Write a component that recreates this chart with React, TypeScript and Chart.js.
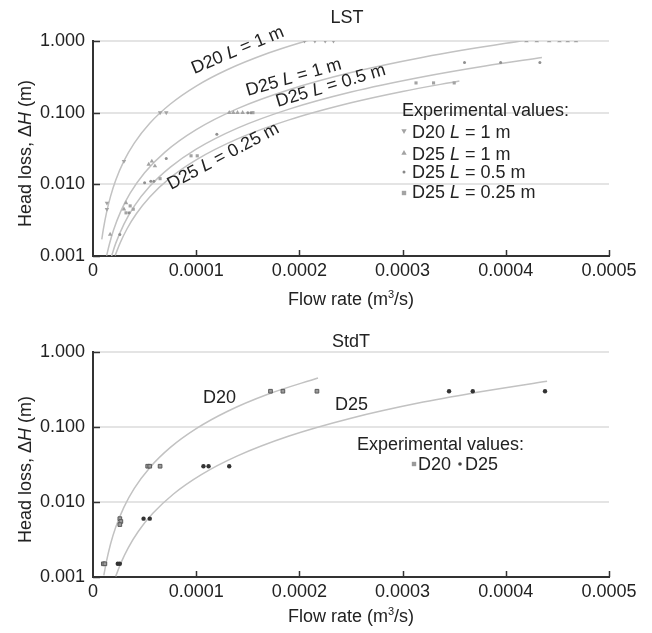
import React, { useEffect, useRef } from "react";
import { Chart, registerables } from "chart.js";

Chart.register(...registerables);

const FONT = '"Liberation Sans", Arial, Helvetica, sans-serif';

// ---------- axes ----------
const X_TICKS = [0, 0.0001, 0.0002, 0.0003, 0.0004, 0.0005];
const Y_TICKS = [0.001, 0.01, 0.1, 1];

// ---------- LST: fitted curves ----------
const LST_D20_1M_FIT_Q = [0.0000085, 0.00001, 0.000013, 0.000017, 0.000022, 0.00003, 0.00004, 0.000055, 0.000075, 0.0001, 0.00013, 0.00017, 0.0002, 0.00023];
const LST_D20_1M_FIT_H = [0.0017, 0.00235, 0.00397, 0.00679, 0.0114, 0.0212, 0.0376, 0.0711, 0.132, 0.235, 0.397, 0.679, 0.94, 1.24];
const LST_D25_1M_FIT_Q = [0.0000132, 0.000016, 0.00002, 0.000027, 0.000036, 0.00005, 0.00007, 0.0001, 0.00014, 0.00019, 0.00025, 0.00032, 0.0004, 0.00047];
const LST_D25_1M_FIT_H = [0.00101, 0.00148, 0.00232, 0.00423, 0.00752, 0.0145, 0.0284, 0.058, 0.114, 0.209, 0.3625, 0.594, 0.928, 1.28];
const LST_D25_05M_FIT_Q = [0.000018, 0.000022, 0.00003, 0.00004, 0.000055, 0.000075, 0.0001, 0.00014, 0.00019, 0.00025, 0.00032, 0.00038, 0.000435];
const LST_D25_05M_FIT_H = [0.001, 0.0015, 0.00279, 0.00496, 0.00938, 0.0174, 0.031, 0.0608, 0.112, 0.194, 0.317, 0.448, 0.587];
const LST_D25_025M_FIT_Q = [0.0000215, 0.000026, 0.000033, 0.000042, 0.000055, 0.000075, 0.0001, 0.00014, 0.00019, 0.00025, 0.0003, 0.000355];
const LST_D25_025M_FIT_H = [0.00102, 0.00149, 0.0024, 0.00388, 0.00666, 0.0124, 0.022, 0.0431, 0.0794, 0.1375, 0.198, 0.277];

// ---------- LST: experimental values ----------
const LST_D20_1M_Q = [0.0000135, 0.0000135, 0.00003, 0.000065, 0.000071, 0.000205, 0.000215, 0.000225, 0.000233];
const LST_D20_1M_H = [0.0045, 0.0055, 0.021, 0.1, 0.1, 1, 1, 1, 1];
const LST_D25_1M_Q = [0.0000166, 0.00003, 0.000032, 0.000054, 0.000057, 0.00006, 0.000132, 0.000136, 0.00014, 0.000145, 0.00042, 0.00043, 0.000442, 0.000452, 0.00046, 0.000468];
const LST_D25_1M_H = [0.002, 0.0045, 0.0055, 0.019, 0.021, 0.018, 0.1, 0.1, 0.1, 0.1, 1, 1, 1, 1, 1, 1];
const LST_D25_05M_Q = [0.000026, 0.000035, 0.00005, 0.000056, 0.000059, 0.000071, 0.00012, 0.00015, 0.000153, 0.00036, 0.000395, 0.000433];
const LST_D25_05M_H = [0.002, 0.004, 0.0105, 0.011, 0.011, 0.023, 0.05, 0.1, 0.1, 0.5, 0.5, 0.5];
const LST_D25_025M_Q = [0.000032, 0.000036, 0.000039, 0.000065, 0.000095, 0.000101, 0.000155, 0.000313, 0.00033, 0.00035];
const LST_D25_025M_H = [0.004, 0.005, 0.0045, 0.012, 0.025, 0.025, 0.1, 0.26, 0.26, 0.26];

// ---------- StdT: fitted curves ----------
const STD_D20_FIT_Q = [0.0000105, 0.000013, 0.000017, 0.000022, 0.00003, 0.00004, 0.000055, 0.000075, 0.0001, 0.00013, 0.00017, 0.000218];
const STD_D20_FIT_H = [0.00105, 0.0016, 0.00275, 0.0046, 0.00855, 0.0152, 0.0287, 0.0534, 0.095, 0.161, 0.275, 0.451];
const STD_D25_FIT_Q = [0.000022, 0.000027, 0.000034, 0.000044, 0.000058, 0.000078, 0.000105, 0.00014, 0.00019, 0.00025, 0.00032, 0.00038, 0.00044];
const STD_D25_FIT_H = [0.00102, 0.00153, 0.00243, 0.00407, 0.00706, 0.0128, 0.0232, 0.0412, 0.0758, 0.131, 0.215, 0.303, 0.407];

// ---------- StdT: experimental values ----------
const STD_D20_Q = [0.00001, 0.0000115, 0.000026, 0.000027, 0.000026, 0.000053, 0.000055, 0.000065, 0.000172, 0.000184, 0.000217];
const STD_D20_H = [0.0015, 0.0015, 0.006, 0.0055, 0.005, 0.03, 0.03, 0.03, 0.3, 0.3, 0.3];
const STD_D25_Q = [0.000024, 0.000026, 0.000049, 0.000055, 0.000107, 0.000112, 0.000132, 0.000345, 0.000368, 0.000438];
const STD_D25_H = [0.0015, 0.0015, 0.006, 0.006, 0.03, 0.03, 0.03, 0.3, 0.3, 0.3];

const zip = (q: number[], h: number[]) => q.map((x, i) => ({ x, y: h[i] }));

type Run = { t: string; i?: boolean; sup?: boolean };
type Marker = "tri" | "triDown" | "dot" | "sq";

function fontOf(r: Run, size: number) {
  return `${r.i ? "italic " : ""}${r.sup ? Math.round(size * 0.62) : size}px ${FONT}`;
}

function drawRuns(ctx: CanvasRenderingContext2D, runs: Run[], x: number, y: number, size: number, align: "left" | "center" = "left", color = "#222") {
  let total = 0;
  const widths = runs.map((r) => {
    ctx.font = fontOf(r, size);
    const w = ctx.measureText(r.t).width;
    total += w;
    return w;
  });
  let cx = align === "center" ? x - total / 2 : x;
  ctx.fillStyle = color;
  ctx.textBaseline = "alphabetic";
  ctx.textAlign = "left";
  runs.forEach((r, k) => {
    ctx.font = fontOf(r, size);
    ctx.fillText(r.t, cx, r.sup ? y - size * 0.38 : y);
    cx += widths[k];
  });
}

function drawMarker(ctx: CanvasRenderingContext2D, kind: Marker, x: number, y: number, r: number, color: string) {
  ctx.save();
  ctx.fillStyle = color;
  ctx.beginPath();
  if (kind === "tri") {
    ctx.moveTo(x, y - r);
    ctx.lineTo(x + r * 0.9, y + r * 0.6);
    ctx.lineTo(x - r * 0.9, y + r * 0.6);
    ctx.closePath();
    ctx.fill();
  } else if (kind === "triDown") {
    ctx.moveTo(x, y + r);
    ctx.lineTo(x + r * 0.9, y - r * 0.6);
    ctx.lineTo(x - r * 0.9, y - r * 0.6);
    ctx.closePath();
    ctx.fill();
  } else if (kind === "dot") {
    ctx.arc(x, y, r, 0, Math.PI * 2);
    ctx.fill();
  } else {
    ctx.fillRect(x - r, y - r, r * 2, r * 2);
  }
  ctx.restore();
}

const L = (pre: string, post: string): Run[] => [{ t: pre }, { t: "L", i: true }, { t: post }];

type Spec = {
  title: string;
  titleX: number;
  titleY: number;
  xTitleY: number;
  labels: { runs: Run[]; q: number; h: number; angle: number }[];
  legendTitle: { x: number; y: number };
  legendItems: { runs: Run[]; marker: Marker; color: string; r: number; mx: number; my: number; tx: number; ty: number }[];
};

function makePlugin(spec: Spec) {
  return {
    id: "annot",
    afterDraw(chart: any) {
      const ctx: CanvasRenderingContext2D = chart.ctx;
      const xs = chart.scales.x;
      const ys = chart.scales.y;
      const area = chart.chartArea;
      ctx.save();
      // inward tick marks
      ctx.strokeStyle = "#333";
      ctx.lineWidth = 1.5;
      X_TICKS.forEach((v) => {
        if (v === 0) return;
        const px = Math.round(xs.getPixelForValue(v)) + 0.5;
        ctx.beginPath();
        ctx.moveTo(px, area.bottom);
        ctx.lineTo(px, area.bottom - 6);
        ctx.stroke();
      });
      Y_TICKS.forEach((v) => {
        const py = Math.round(ys.getPixelForValue(v)) + 0.5;
        ctx.beginPath();
        ctx.moveTo(area.left, py);
        ctx.lineTo(area.left + 7, py);
        ctx.stroke();
      });
      // chart title
      drawRuns(ctx, [{ t: spec.title }], spec.titleX, spec.titleY, 18, "center");
      // x-axis title
      drawRuns(ctx, [{ t: "Flow rate (m" }, { t: "3", sup: true }, { t: "/s)" }], (area.left + area.right) / 2, spec.xTitleY, 18, "center");
      // y-axis title
      ctx.save();
      ctx.translate(31, (area.top + area.bottom) / 2 + 5);
      ctx.rotate(-Math.PI / 2);
      drawRuns(ctx, [{ t: "Head loss, \u0394" }, { t: "H", i: true }, { t: " (m)" }], 0, 0, 18, "center");
      ctx.restore();
      // curve labels
      spec.labels.forEach((lb) => {
        ctx.save();
        ctx.translate(xs.getPixelForValue(lb.q), ys.getPixelForValue(lb.h));
        ctx.rotate((lb.angle * Math.PI) / 180);
        drawRuns(ctx, lb.runs, 0, 0, 18, "left");
        ctx.restore();
      });
      // legend
      drawRuns(ctx, [{ t: "Experimental values:" }], spec.legendTitle.x, spec.legendTitle.y, 18, "left");
      spec.legendItems.forEach((it) => {
        drawMarker(ctx, it.marker, it.mx, it.my, it.r, it.color);
        drawRuns(ctx, it.runs, it.tx, it.ty, 18, "left");
      });
      ctx.restore();
    },
  };
}

function scaleOptions(xHeight: number) {
  return {
    x: {
      type: "linear",
      min: 0,
      max: 0.0005,
      afterBuildTicks: (s: any) => {
        s.ticks = X_TICKS.map((v) => ({ value: v }));
      },
      afterFit: (s: any) => {
        s.height = xHeight;
      },
      grid: { display: false, drawTicks: false },
      border: { display: true, color: "#333", width: 2 },
      ticks: {
        padding: 4,
        color: "#222",
        maxRotation: 0,
        autoSkip: false,
        font: { family: FONT, size: 18 },
        callback: (v: any) => (Number(v) === 0 ? "0" : Number(v).toFixed(4)),
      },
    },
    y: {
      type: "logarithmic",
      min: 0.001,
      max: 1,
      afterBuildTicks: (s: any) => {
        s.ticks = Y_TICKS.map((v) => ({ value: v }));
      },
      afterFit: (s: any) => {
        s.width = 93;
      },
      grid: { color: "#e4e4e4", lineWidth: 2, drawTicks: false },
      border: { display: true, color: "#333", width: 2 },
      ticks: {
        padding: 8,
        color: "#222",
        autoSkip: false,
        font: { family: FONT, size: 18 },
        callback: (v: any) => Number(v).toFixed(3),
      },
    },
  };
}

const CURVE = { showLine: true, pointRadius: 0, borderColor: "#c2c2c2", borderWidth: 1.5, cubicInterpolationMode: "monotone", order: 2 };
const PTCOL = "#a3a3a3";

function LstChart() {
  const ref = useRef<HTMLCanvasElement>(null);
  useEffect(() => {
    const spec: Spec = {
      title: "LST",
      titleX: 347,
      titleY: 23,
      xTitleY: 305,
      labels: [
        { runs: L("D20 ", " = 1 m"), q: 0.000098, h: 0.347, angle: -22.7 },
        { runs: L("D25 ", " = 1 m"), q: 0.00015, h: 0.171, angle: -16 },
        { runs: L("D25 ", " = 0.5 m"), q: 0.000179, h: 0.12, angle: -16.6 },
        { runs: L("D25 ", " = 0.25 m"), q: 0.0000756, h: 0.00835, angle: -28 },
      ],
      legendTitle: { x: 402, y: 116 },
      legendItems: [
        { runs: L("D20 ", " = 1 m"), marker: "triDown", color: PTCOL, r: 3, mx: 404, my: 131, tx: 412, ty: 138 },
        { runs: L("D25 ", " = 1 m"), marker: "tri", color: PTCOL, r: 3, mx: 404, my: 153, tx: 412, ty: 160 },
        { runs: L("D25 ", " = 0.5 m"), marker: "dot", color: "#888", r: 1.5, mx: 404, my: 172, tx: 412, ty: 178 },
        { runs: L("D25 ", " = 0.25 m"), marker: "sq", color: PTCOL, r: 2.2, mx: 404, my: 193, tx: 412, ty: 198 },
      ],
    };
    const chart = new Chart(ref.current!, {
      type: "scatter",
      data: {
        datasets: [
          { data: zip(LST_D20_1M_Q, LST_D20_1M_H), pointStyle: "triangle", rotation: 180, pointRadius: 2.6, backgroundColor: PTCOL, borderColor: PTCOL, borderWidth: 0, order: 0 },
          { data: zip(LST_D25_1M_Q, LST_D25_1M_H), pointStyle: "triangle", pointRadius: 2.6, backgroundColor: PTCOL, borderColor: PTCOL, borderWidth: 0, order: 0 },
          { data: zip(LST_D25_05M_Q, LST_D25_05M_H), pointStyle: "circle", pointRadius: 1.5, backgroundColor: "#909090", borderColor: "#909090", borderWidth: 0, order: 0 },
          { data: zip(LST_D25_025M_Q, LST_D25_025M_H), pointStyle: "rect", pointRadius: 2.2, backgroundColor: PTCOL, borderColor: PTCOL, borderWidth: 0, order: 0 },
          { data: zip(LST_D20_1M_FIT_Q, LST_D20_1M_FIT_H), ...CURVE },
          { data: zip(LST_D25_1M_FIT_Q, LST_D25_1M_FIT_H), ...CURVE },
          { data: zip(LST_D25_05M_FIT_Q, LST_D25_05M_FIT_H), ...CURVE },
          { data: zip(LST_D25_025M_FIT_Q, LST_D25_025M_FIT_H), ...CURVE },
        ] as any,
      },
      options: {
        animation: false,
        responsive: false,
        maintainAspectRatio: false,
        layout: { padding: { left: 0, right: 43, top: 41, bottom: 0 } },
        plugins: { legend: { display: false }, title: { display: false }, tooltip: { enabled: false } },
        scales: scaleOptions(60) as any,
      },
      plugins: [makePlugin(spec)],
    });
    return () => chart.destroy();
  }, []);
  return <canvas ref={ref} width={652} height={316} style={{ display: "block" }} />;
}

function StdChart() {
  const ref = useRef<HTMLCanvasElement>(null);
  useEffect(() => {
    const spec: Spec = {
      title: "StdT",
      titleX: 351,
      titleY: 31,
      xTitleY: 306,
      labels: [
        { runs: [{ t: "D20" }], q: 0.0001066, h: 0.209, angle: 0 },
        { runs: [{ t: "D25" }], q: 0.0002345, h: 0.1686, angle: 0 },
      ],
      legendTitle: { x: 357, y: 134 },
      legendItems: [
        { runs: [{ t: "D20" }], marker: "sq", color: "#9a9a9a", r: 2.2, mx: 414, my: 148, tx: 418, ty: 154 },
        { runs: [{ t: "D25" }], marker: "dot", color: "#444", r: 1.8, mx: 460, my: 148, tx: 465, ty: 154 },
      ],
    };
    const chart = new Chart(ref.current!, {
      type: "scatter",
      data: {
        datasets: [
          { data: zip(STD_D20_Q, STD_D20_H), pointStyle: "rect", pointRadius: 2.6, backgroundColor: "#9a9a9a", borderColor: "#5a5a5a", borderWidth: 1, order: 0 },
          { data: zip(STD_D25_Q, STD_D25_H), pointStyle: "circle", pointRadius: 2.2, backgroundColor: "#333", borderColor: "#333", borderWidth: 0, order: 0 },
          { data: zip(STD_D20_FIT_Q, STD_D20_FIT_H), ...CURVE },
          { data: zip(STD_D25_FIT_Q, STD_D25_FIT_H), ...CURVE },
        ] as any,
      },
      options: {
        animation: false,
        responsive: false,
        maintainAspectRatio: false,
        layout: { padding: { left: 0, right: 43, top: 36, bottom: 0 } },
        plugins: { legend: { display: false }, title: { display: false }, tooltip: { enabled: false } },
        scales: scaleOptions(56) as any,
      },
      plugins: [makePlugin(spec)],
    });
    return () => chart.destroy();
  }, []);
  return <canvas ref={ref} width={652} height={317} style={{ display: "block" }} />;
}

export default function App() {
  return (
    <div style={{ position: "fixed", left: 0, top: 0, width: 652, height: 633, background: "#fff" }}>
      <LstChart />
      <StdChart />
    </div>
  );
}
